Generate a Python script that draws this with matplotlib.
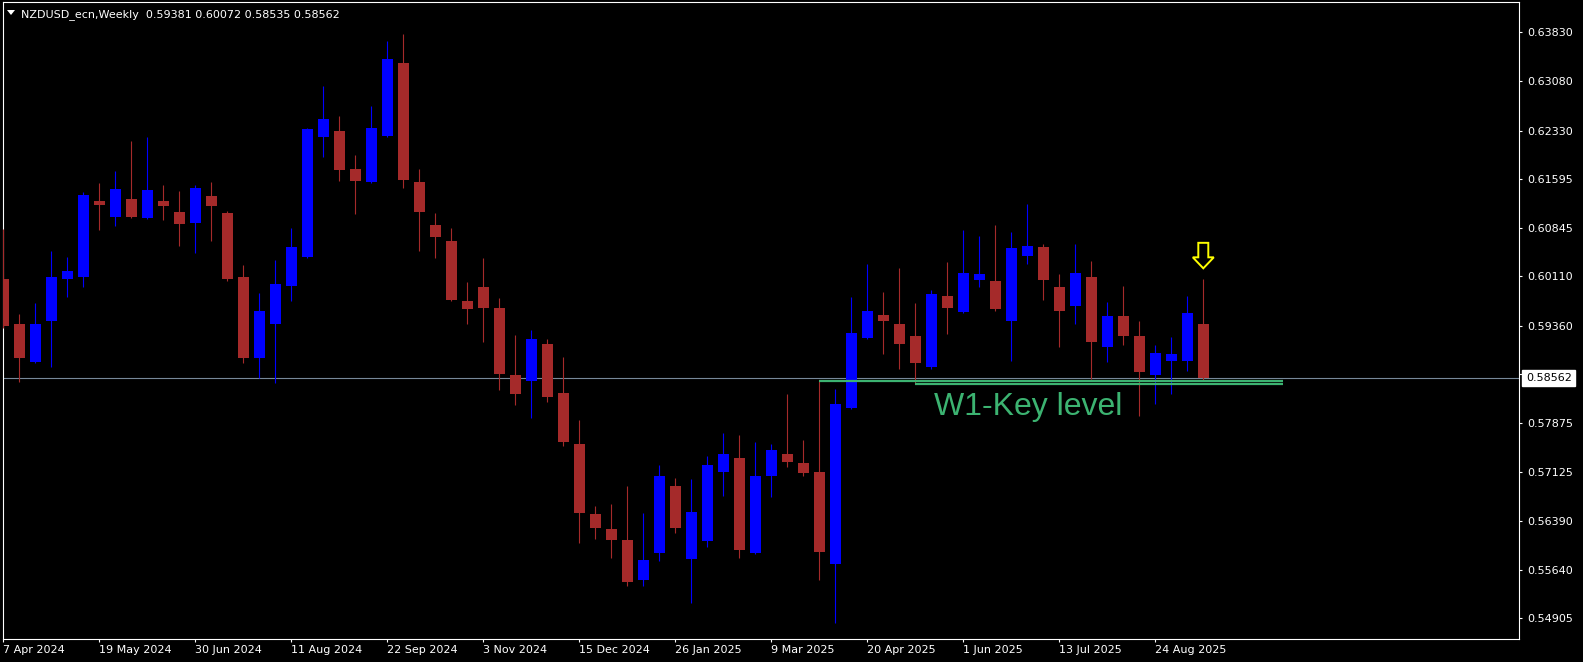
import numpy as np
import pandas as pd
import matplotlib
matplotlib.use("Agg")
import matplotlib.pyplot as plt
import matplotlib.transforms as mtransforms
from matplotlib.patches import Polygon

# Velas semanales NZDUSD
symbol = "NZDUSD_ecn,Weekly"
first_week = "2024-04-07"

opens = [
    0.60069, 0.59384, 0.58810, 0.59430, 0.60069, 0.60100, 0.61257, 0.61013, 0.61287, 0.60998,
    0.61257, 0.61089, 0.60922, 0.61333, 0.61074, 0.60100, 0.58871, 0.59389, 0.59967, 0.60404,
    0.62231, 0.62323, 0.61744, 0.61546, 0.62247, 0.63358, 0.61546, 0.60891, 0.60648, 0.59734,
    0.59948, 0.59628, 0.58608, 0.58516, 0.59080, 0.58334, 0.57557, 0.56491, 0.56263, 0.56096,
    0.55487, 0.55898, 0.56918, 0.55806, 0.56080, 0.57131, 0.57344, 0.55898, 0.57070, 0.57405,
    0.57268, 0.57131, 0.55730, 0.58105, 0.59171, 0.59521, 0.59384, 0.59202, 0.58730, 0.59811,
    0.59567, 0.60054, 0.60039, 0.59430, 0.60420, 0.60557, 0.59948, 0.59658, 0.60100, 0.59034,
    0.59506, 0.59202, 0.58608, 0.58821, 0.58821, 0.59381]
highs = [
    0.60831, 0.59536, 0.59699, 0.60496, 0.60404, 0.61398, 0.61531, 0.61714, 0.62170, 0.62231,
    0.61500, 0.61409, 0.61500, 0.61546, 0.61105, 0.60282, 0.59856, 0.60359, 0.60846, 0.62373,
    0.63008, 0.62551, 0.61957, 0.62703, 0.63693, 0.63799, 0.61744, 0.61074, 0.60846, 0.60024,
    0.60389, 0.59780, 0.59217, 0.59293, 0.59156, 0.58882, 0.57923, 0.56613, 0.56644, 0.56918,
    0.56507, 0.57237, 0.57040, 0.57024, 0.57374, 0.57725, 0.57694, 0.57588, 0.57557, 0.58318,
    0.57618, 0.58516, 0.58395, 0.59795, 0.60298, 0.59871, 0.60237, 0.59704, 0.59902, 0.60328,
    0.60815, 0.60724, 0.60891, 0.60785, 0.61211, 0.60602, 0.60145, 0.60602, 0.60343, 0.59719,
    0.59963, 0.59430, 0.59064, 0.59186, 0.59811, 0.60072]
lows = [
    0.59323, 0.58506, 0.58795, 0.58734, 0.59795, 0.59948, 0.60815, 0.60876, 0.60998, 0.60983,
    0.60968, 0.60572, 0.60465, 0.60648, 0.60039, 0.58795, 0.58562, 0.58486, 0.59734, 0.60389,
    0.61927, 0.61561, 0.61059, 0.61531, 0.62231, 0.61455, 0.60496, 0.60389, 0.59734, 0.59384,
    0.59110, 0.58379, 0.58151, 0.57953, 0.58197, 0.57527, 0.56050, 0.56111, 0.55822, 0.55395,
    0.55395, 0.55776, 0.56202, 0.55136, 0.55989, 0.56765, 0.55822, 0.55882, 0.56750, 0.57207,
    0.57070, 0.55487, 0.54836, 0.58090, 0.59156, 0.58927, 0.58699, 0.58471, 0.58699, 0.59232,
    0.59552, 0.59948, 0.59582, 0.58821, 0.60298, 0.59750, 0.59034, 0.59384, 0.58547, 0.58806,
    0.59064, 0.57983, 0.58166, 0.58318, 0.58669, 0.58535]
closes = [
    0.59354, 0.58871, 0.59384, 0.60100, 0.60191, 0.61348, 0.61196, 0.61440, 0.61013, 0.61424,
    0.61181, 0.60907, 0.61455, 0.61181, 0.60069, 0.58871, 0.59582, 0.59993, 0.60557, 0.62353,
    0.62505, 0.61729, 0.61561, 0.62368, 0.63419, 0.61577, 0.61089, 0.60709, 0.59750, 0.59613,
    0.59628, 0.58623, 0.58318, 0.59156, 0.58273, 0.57588, 0.56507, 0.56278, 0.56096, 0.55456,
    0.55791, 0.57070, 0.56278, 0.56522, 0.57237, 0.57405, 0.55943, 0.57070, 0.57466, 0.57283,
    0.57116, 0.55913, 0.58166, 0.59247, 0.59582, 0.59430, 0.59080, 0.58790, 0.59841, 0.59628,
    0.60161, 0.60145, 0.59613, 0.60541, 0.60572, 0.60054, 0.59582, 0.60161, 0.59110, 0.59506,
    0.59202, 0.58653, 0.58943, 0.58927, 0.59552, 0.58562]

# Niveles clave dibujados (precio, vela inicial, vela final)
key_levels = [0.58521, 0.58478]
key_start = [51, 57]
key_end = [80, 80]
key_label = "W1-Key level"
key_label_pos = (58.2, 0.57999)

ytick_vals = [0.63830, 0.63080, 0.62330, 0.61595, 0.60845, 0.60110, 0.59360,
              0.58625, 0.57875, 0.57125, 0.56390, 0.55640, 0.54905]

o = np.array(opens)
h = np.array(highs)
l = np.array(lows)
c = np.array(closes)
x = np.arange(len(o))
dates = pd.date_range(first_week, periods=len(o), freq="7D")

W, H = 1583, 662
fig = plt.figure(figsize=(W / 100, H / 100), dpi=100, facecolor="black")
ax = fig.add_axes([2.5 / W, 23.5 / H, 1516.8 / W, 636.2 / H], facecolor="black")

up = c > o
colors = np.where(up, "#0000FF", "#A52A2A")
ax.vlines(x, l, h, colors=colors, lw=0.8, zorder=3)
ax.bar(x, np.abs(c - o), bottom=np.minimum(o, c), width=0.69, color=colors, lw=0, zorder=4)

# Linea de precio actual
ax.axhline(c[-1], color="#778899", lw=0.8, zorder=2)

# Niveles clave
ax.hlines(key_levels, key_start, key_end, color="#3CB371", lw=1.6, zorder=5)
ax.text(*key_label_pos, key_label, color="#3CB371", fontsize=23,
        family=["Liberation Sans", "DejaVu Sans"], ha="left", va="baseline", zorder=6)

ax.set_xlim(-0.05, 94.75)
ax.set_ylim(0.54596, 0.64282)

# Ejes estilo MT4
for s in ax.spines.values():
    s.set_color("white")
    s.set_linewidth(0.8)

ticks = x[::6]
ax.set_xticks(ticks, [f"{d.day} {d:%b %Y}" for d in dates[::6]])
for lbl in ax.get_xticklabels():
    lbl.set_horizontalalignment("left")
ax.tick_params(axis="x", colors="white", direction="out", length=2.5, width=0.8,
               pad=2, labelsize=8)

ax.yaxis.tick_right()
ax.set_yticks(ytick_vals, [f"{v:.5f}" for v in ytick_vals])
ax.tick_params(axis="y", colors="white", direction="out", length=2.5, width=0.8,
               pad=3, labelsize=8)

ax.annotate(f"{c[-1]:.5f}", xy=(1, c[-1]), xycoords=("axes fraction", "data"),
            xytext=(6.5, 0), textcoords="offset pixels", ha="left", va="center",
            fontsize=8, color="black", annotation_clip=False, zorder=10,
            bbox=dict(boxstyle="square,pad=0.3", fc="white", ec="white"))

# Titulo
fig.text(21.3 / W, 1 - 16.7 / H,
         f"{symbol}  {o[-1]:.5f} {h[-1]:.5f} {l[-1]:.5f} {c[-1]:.5f}",
         color="white", fontsize=8, va="baseline")
ident = mtransforms.IdentityTransform()
fig.add_artist(Polygon([(7, H - 10), (15, H - 10), (11, H - 15)], closed=True,
                       fc="white", ec="none", transform=ident))

# Flecha amarilla sobre la ultima vela
px, py = ax.transData.transform((x[-1], h[-1]))
arrow = [(px - 5, py + 36), (px + 5, py + 36), (px + 5, py + 21.5), (px + 10.5, py + 21.5),
         (px, py + 10.5), (px - 10.5, py + 21.5), (px - 5, py + 21.5)]
fig.add_artist(Polygon(arrow, closed=True, fc="black", ec="#FFFF00", lw=1.4,
                       transform=ident, zorder=7))

fig.savefig("out.png", dpi=100, facecolor="black")
plt.close(fig)
